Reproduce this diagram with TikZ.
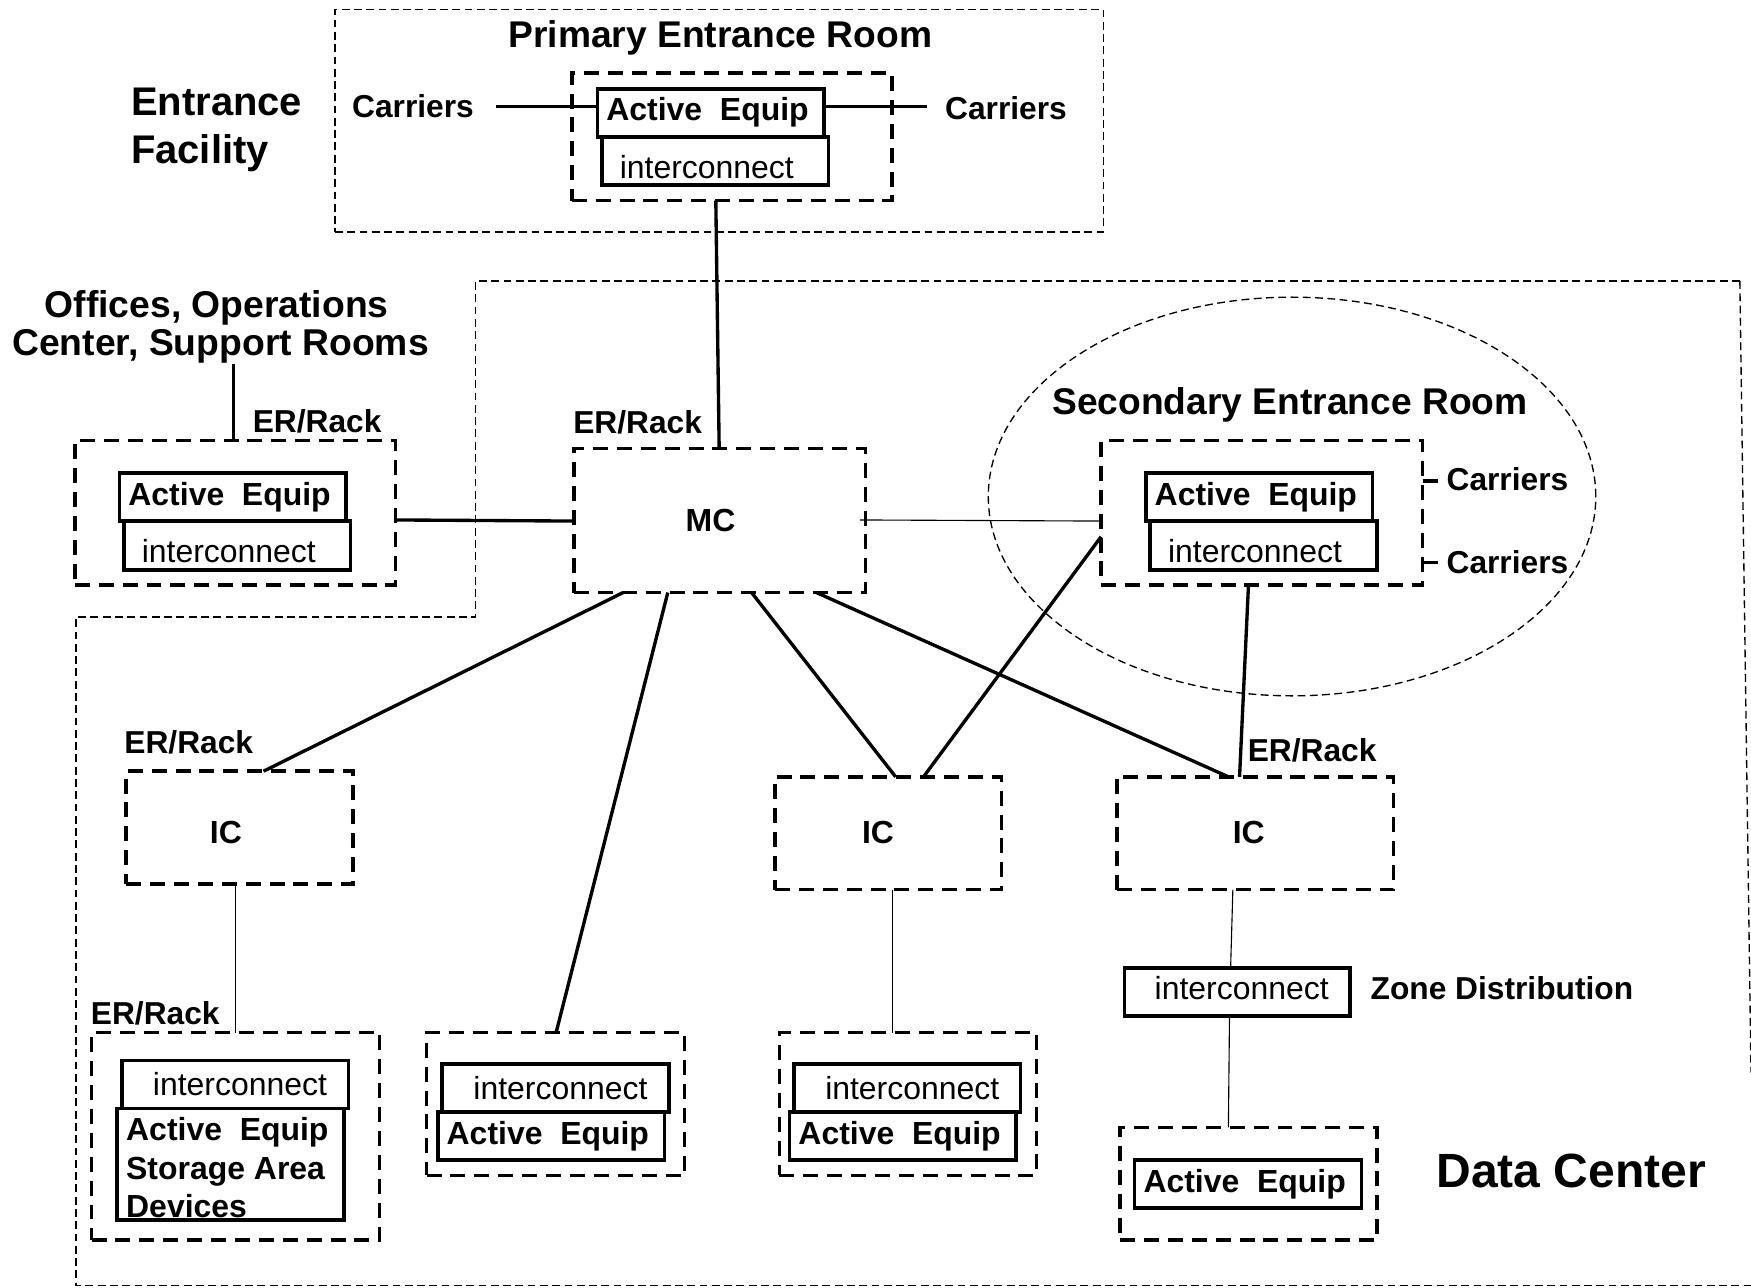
\documentclass[tikz,border=0pt]{standalone}
\usepackage{fontspec}
\setmainfont{Liberation Sans}
\usetikzlibrary{shapes.geometric}
\tikzset{
  x=0.5pt, y=-0.5pt,
  basebox/.style={rectangle, inner sep=0pt, outer sep=0pt, font=\fontsize{14.3}{17}\selectfont},
  dashbox/.style={basebox, draw, line width=1.6pt, dash pattern=on 6.7pt off 4pt},
  roombox/.style={basebox, draw, line width=0.6pt, dash pattern=on 3.5pt off 2pt},
  solidbox/.style={basebox, draw, line width=1.6pt},
  bigcap/.style={anchor=base west, inner sep=0pt, font=\bfseries\fontsize{16.65}{17}\selectfont},
  smallcap/.style={anchor=base west, inner sep=0pt, font=\bfseries\fontsize{14.2}{17}\selectfont},
  thickwire/.style={line width=1.5pt},
  thinwire/.style={line width=0.5pt},
  boundary/.style={line width=0.6pt, dash pattern=on 3.5pt off 2pt},
}
% [style]{name}{x1}{y1}{x2}{y2}{text x}{baseline y}{text}
\newcommand{\bx}[9][]{%
  \pgfmathsetmacro{\bxw}{(#5-#3)*0.5}%
  \pgfmathsetmacro{\bxh}{(#6-#4)*0.5}%
  \pgfmathsetmacro{\bxcx}{(#3+#5)/2}%
  \pgfmathsetmacro{\bxcy}{(#4+#6)/2}%
  \pgfmathsetmacro{\bxoff}{(#7-#3)*0.5}%
  \pgfmathsetmacro{\bxo}{#8-(#4+#6)/2}%
  \node[#1, minimum width=\bxw pt, minimum height=\bxh pt, text height=\bxo pt, text depth=0pt] (#2) at (\bxcx,\bxcy)
    {\makebox[\bxw pt][l]{\hspace*{\bxoff pt}#9}};%
}
\newcommand{\AEq}{\textbf{Active\ \ Equip}}
\begin{document}
\begin{tikzpicture}
\useasboundingbox (0,0) rectangle (1568,1152.5);
\begin{scope}[yshift=-0.3pt]
% Regions
\bx[roombox]{proom}{300}{8}{988}{207}{300}{107.5}{}
\draw[boundary] (1558,251) -- (426,251) -- (426,552) -- (68,552) -- (68,1150.5) -- (1568,1150.5);
\draw[boundary] (1558,251) -- (1568,960);
\node[ellipse, draw, line width=0.6pt, dash pattern=on 3.5pt off 2pt, inner sep=0pt, minimum width=272pt, minimum height=178.5pt] (sroom) at (1157,444) {};
% Dashed boxes
\bx[dashbox]{pri}{512}{65}{799}{179}{512}{122}{}
\bx[dashbox]{off}{67}{394}{354}{523}{67}{458.5}{}
\bx[dashbox]{mc}{514}{401}{775}{530}{614}{475}{\textbf{MC}}
\bx[dashbox]{sec}{986}{394}{1274}{523}{986}{458.5}{}
\bx[dashbox]{ica}{113}{690}{316}{791}{188}{755}{\textbf{IC}}
\bx[dashbox]{icb}{694}{695}{897}{796}{772}{755}{\textbf{IC}}
\bx[dashbox]{icc}{1000}{695}{1248}{796}{1104}{755}{\textbf{IC}}
\bx[dashbox]{bla}{82}{924}{340}{1110}{82}{1017}{}
\bx[dashbox]{blb}{382}{924}{613}{1052}{382}{988}{}
\bx[dashbox]{blc}{698}{924}{928}{1052}{698}{988}{}
\bx[dashbox]{bld}{1003}{1009}{1233}{1110}{1003}{1059.5}{}
% Solid boxes
\bx[solidbox]{priae}{535}{79}{738}{122}{543}{107}{\AEq}
\bx[solidbox]{priic}{539}{122}{742}{165}{555}{159}{interconnect}
\bx[solidbox]{offae}{107}{423}{310}{466}{115}{452}{\AEq}
\bx[solidbox]{offic}{111}{466}{314}{510}{127}{503}{interconnect}
\bx[solidbox]{secae}{1026}{423}{1229}{466}{1034}{452}{\AEq}
\bx[solidbox]{secic}{1030}{466}{1233}{510}{1046}{503}{interconnect}
\bx[solidbox]{blaic}{109}{949}{312}{992}{137}{980}{interconnect}
\bx[solidbox]{blaae}{105}{992}{308}{1092}{113}{1090}{\parbox[b]{95pt}{\baselineskip=17.25pt\AEq\\\textbf{Storage Area}\\\textbf{Devices}}}
\bx[solidbox]{blbic}{396}{952}{599}{995}{424}{984}{interconnect}
\bx[solidbox]{blbae}{392}{995}{595}{1038}{400}{1024}{\AEq}
\bx[solidbox]{blcic}{711}{952}{914}{995}{739}{984}{interconnect}
\bx[solidbox]{blcae}{707}{995}{910}{1038}{715}{1024}{\AEq}
\bx[solidbox]{zone}{1007}{866}{1209}{909}{1034}{894}{interconnect}
\bx[solidbox]{bldae}{1016}{1038}{1219}{1081}{1024}{1067}{\AEq}
% Labels
\node[bigcap] (ptitle) at (455,42) {Primary Entrance Room};
\node[bigcap] (stitle) at (942,371) {Secondary Entrance Room};
\node[anchor=base west, inner sep=0pt, align=left, font=\bfseries\fontsize{17.9}{21.5}\selectfont] (ef) at (117,103) {Entrance};
\node[anchor=base west, inner sep=0pt, font=\bfseries\fontsize{17.9}{21.5}\selectfont] (ef2) at (117,146) {Facility};
\node[anchor=south, inner sep=0pt, align=center, font=\bfseries\fontsize{16.7}{17}\selectfont] (oftitle) at (197.5,325) {Offices, Operations\hspace*{3.5pt}\\Center, Support Rooms};
\node[anchor=base west, inner sep=0pt, font=\bfseries\fontsize{21.5}{25}\selectfont] (dc) at (1286,1063) {Data Center};
\node[smallcap] (cara) at (315,105) {Carriers};
\node[smallcap] (carb) at (846,106) {Carriers};
\node[smallcap] (carc) at (1295,439) {Carriers};
\node[smallcap] (card) at (1295,513) {Carriers};
\node[smallcap] (zd) at (1227,894) {Zone Distribution};
\node[smallcap] (era) at (226,387) {ER/Rack};
\node[smallcap] (erb) at (513,388) {ER/Rack};
\node[smallcap] (erc) at (111,674) {ER/Rack};
\node[smallcap] (erd) at (1117,681) {ER/Rack};
\node[smallcap] (ere) at (81,917) {ER/Rack};
% Free ends of the carrier lines
\coordinate (lefta) at (444,95);
\coordinate (righta) at (830,95);
\coordinate (stuba) at (1288,430);
\coordinate (stubb) at (1288,503);
% Connectors
\draw[thickwire] (lefta) -- (priae.west |- lefta);
\draw[thickwire] (priae.east |- righta) -- (righta);
\draw[thickwire] (sec.east |- stuba) -- (stuba);
\draw[thickwire] (sec.east |- stubb) -- (stubb);
\draw[thickwire] (pri.south -| 641,0) -- (mc.north -| 644,0);
\draw[thickwire] (oftitle.south -| 209,0) -- (off.north -| 209,0);
\draw[thickwire] (off.east |- 0,465) -- (mc.west |- 0,466);
\draw[thinwire] (770,465) -- (sec.west |- 0,466);
\draw[thickwire] (sec.west |- 0,480) -- (icb.north -| 827,0);
\draw[thickwire] (sec.south -| 1118,0) -- (icc.north -| 1110,0);
\draw[thickwire] (mc.south -| 558,0) -- (ica.north -| 236,0);
\draw[thickwire] (mc.south -| 598,0) -- (blb.north -| 498,0);
\draw[thickwire] (mc.south -| 673,0) -- (icb.north -| 802,0);
\draw[thickwire] (mc.south -| 731,0) -- (icc.north -| 1100,0);
\draw[thinwire] (ica.south -| 211,0) -- (bla.north -| 211,0);
\draw[thinwire] (icb.south -| 799,0) -- (blc.north -| 799,0);
\draw[thinwire] (icc.south -| 1104,0) -- (zone.north -| 1102,0);
\draw[thinwire] (zone.south -| 1101,0) -- (bld.north -| 1100,0);
\end{scope}
\end{tikzpicture}
\end{document}
